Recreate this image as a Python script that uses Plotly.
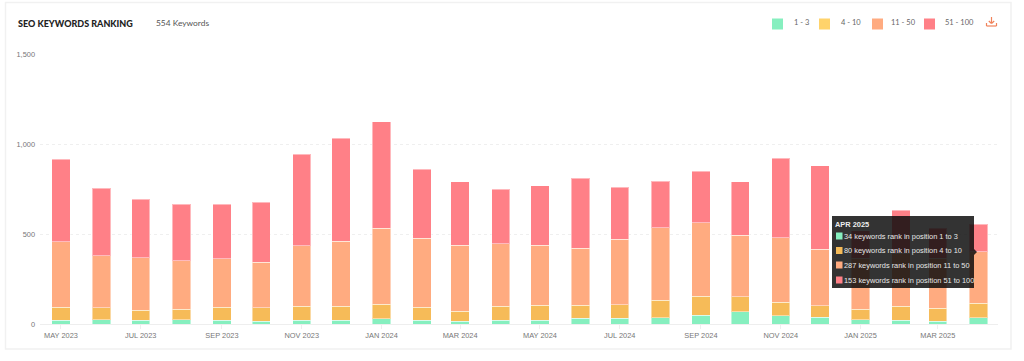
import plotly.graph_objects as go

months = ["2023-05-01","2023-06-01","2023-07-01","2023-08-01","2023-09-01","2023-10-01","2023-11-01","2023-12-01",
          "2024-01-01","2024-02-01","2024-03-01","2024-04-01","2024-05-01","2024-06-01","2024-07-01","2024-08-01",
          "2024-09-01","2024-10-01","2024-11-01","2024-12-01","2025-01-01","2025-02-01","2025-03-01","2025-04-01"]
pos_1_3 = [22,24,20,24,20,15,22,22,28,20,15,20,20,33,33,35,48,67,46,37,24,22,15,34]
pos_4_10 = [71,67,56,59,73,76,78,76,83,74,55,78,84,71,74,98,106,85,76,65,59,78,72,80]
pos_11_50 = [363,289,291,269,270,252,335,363,422,382,367,348,333,316,363,402,409,341,358,313,282,293,278,287]
pos_51_100 = [459,374,327,313,302,333,508,571,591,383,352,302,332,389,289,259,285,298,440,463,152,239,168,153]

series_names = ["1 - 3", "4 - 10", "11 - 50", "51 - 100"]
series_values = [pos_1_3, pos_4_10, pos_11_50, pos_51_100]
series_colors = ["#86EFBF", "#F6BB58", "#FFAB80", "#FF8087"]
legend_colors = ["#86EFBF", "#FFD36B", "#FFAB80", "#FF8087"]
position_text = ["1 to 3", "4 to 10", "11 to 50", "51 to 100"]

tick_dates = months[0::2]
tick_labels = ["MAY 2023","JUL 2023","SEP 2023","NOV 2023","JAN 2024","MAR 2024","MAY 2024","JUL 2024",
               "SEP 2024","NOV 2024","JAN 2025","MAR 2025"]
y_ticks = [0, 500, 1000, 1500]
tooltip_title = "APR 2025"

W, H = 1024, 361
L, R, T, B = 40, 26, 54, 37
PW, PH = W - L - R, H - T - B
px = lambda x: (x - L) / PW
py = lambda y: 1 - (y - T) / PH

fig = go.Figure()
for name, vals, col, pos in zip(series_names, series_values, series_colors, position_text):
    fig.add_trace(go.Bar(
        x=months, y=vals, name=name, width=14 * 86400000,
        marker=dict(color=col, line=dict(color="rgba(255,255,255,0.45)", width=1)),
        hovertemplate="%{y} keywords rank in position " + pos + "<extra></extra>",
    ))

shapes = [
    dict(type="rect", xref="paper", yref="paper", x0=px(5.5), x1=px(1011), y0=py(349), y1=py(2.5),
         line=dict(color="#F1F1F1", width=1.5), fillcolor="rgba(0,0,0,0)", layer="below"),
]


def note(text, x, y, family, size, color, **fontkw):
    return dict(text=text, x=px(x), y=py(y), xref="paper", yref="paper", xanchor="left", yanchor="middle",
                showarrow=False, borderpad=0, borderwidth=0, font=dict(family=family, size=size, color=color, **fontkw))


annotations = [
    note("SEO KEYWORDS RANKING", 18, 24, "Lato", 9, "#222222", weight=900),
    note("554 Keywords", 156, 23, "Lato", 8.4, "#555555"),
]

# legend
legend_swatch_x = [772, 819, 872, 924]
legend_text_x = [794, 841, 891, 945]
for sx, tx, name, col in zip(legend_swatch_x, legend_text_x, series_names, legend_colors):
    shapes.append(dict(type="rect", xref="paper", yref="paper", x0=px(sx), x1=px(sx + 11), y0=py(29.5), y1=py(18.5),
                       fillcolor=col, line=dict(width=0)))
    annotations.append(note(name, tx, 22.5, "Lato", 7.5, "#666666"))

# download icon
icon = "#F0825A"
for x0, y0, x1, y1 in [(991.5, 17, 991.5, 23), (986.5, 23, 986.5, 26), (986.5, 26, 996.5, 26), (996.5, 26, 996.5, 23),
                       (988.8, 21, 991.5, 23.5), (994.2, 21, 991.5, 23.5)]:
    shapes.append(dict(type="line", xref="paper", yref="paper", x0=px(x0), x1=px(x1), y0=py(y0), y1=py(y1),
                       line=dict(color=icon, width=1.2)))

# tooltip
shapes.append(dict(type="rect", xref="paper", yref="paper", x0=px(832), x1=px(974), y0=py(288), y1=py(216),
                   fillcolor="rgba(10,10,10,0.83)", line=dict(width=0), layer="above"))
shapes.append(dict(type="path", xref="paper", yref="paper",
                   path=f"M {px(974)} {py(249)} L {px(977)} {py(252)} L {px(974)} {py(255)} Z",
                   fillcolor="rgba(10,10,10,0.83)", line=dict(width=0)))
annotations.append(note(f"<b>{tooltip_title}</b>", 835, 224, "Liberation Sans", 7.4, "#EEEEEE"))
row_y = [236, 250.5, 265, 280]
for ry, vals, col, pos in zip(row_y, series_values, series_colors, position_text):
    shapes.append(dict(type="rect", xref="paper", yref="paper", x0=px(836), x1=px(842.5), y0=py(ry + 3.5), y1=py(ry - 3.5),
                       fillcolor=col, line=dict(width=0), layer="above"))
    annotations.append(note(f"{vals[-1]} keywords rank in position {pos}", 843.5, ry, "Liberation Sans", 7.4, "#E8E8E8"))

fig.update_layout(
    width=W, height=H, barmode="stack", showlegend=False, autosize=False,
    margin=dict(l=L, r=R, t=T, b=B, pad=0),
    paper_bgcolor="white", plot_bgcolor="white",
    shapes=shapes, annotations=annotations,
    font=dict(family="Liberation Sans", size=7.4, color="#777777"),
    xaxis=dict(type="date", range=["2023-04-15", "2025-04-16"], tickmode="array", tickvals=tick_dates, ticktext=tick_labels,
               showgrid=False, zeroline=False, showline=True, linecolor="#EEEEEE", linewidth=1,
               ticks="outside", ticklen=4, tickcolor="#EEEEEE", tickangle=0,
               tickfont=dict(family="Liberation Sans", size=7.4, color="#777777")),
    yaxis=dict(range=[0, 1500], tickvals=y_ticks, tickformat=",", showgrid=True, griddash="dot", gridcolor="#EFEFEF",
               gridwidth=1, zeroline=False, showline=False, ticks="", ticklabelstandoff=4,
               tickfont=dict(family="Liberation Sans", size=7.4, color="#777777")),
)

fig.write_html("out.html", config={"displayModeBar": False},
               post_script="document.body.style.margin='0';")
